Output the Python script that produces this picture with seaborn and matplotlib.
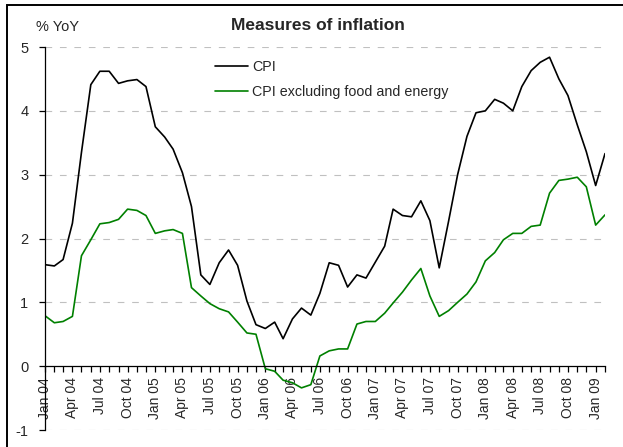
import matplotlib
matplotlib.use("Agg")
import matplotlib.pyplot as plt
import matplotlib.dates as mdates
from matplotlib.patches import Rectangle
import seaborn as sns
import pandas as pd

# monthly year-on-year inflation, Jan 2004 - Feb 2009
months = pd.date_range("2004-01-01", periods=62, freq="MS")

cpi = [1.59, 1.57, 1.67, 2.24, 3.35, 4.41, 4.62, 4.62, 4.43, 4.47, 4.49, 4.38,
       3.75, 3.59, 3.40, 3.03, 2.50, 1.43, 1.28, 1.62, 1.82, 1.58, 1.02, 0.65,
       0.59, 0.69, 0.43, 0.74, 0.91, 0.80, 1.14, 1.62, 1.58, 1.24, 1.43, 1.38,
       1.63, 1.88, 2.46, 2.36, 2.34, 2.59, 2.28, 1.54, 2.27, 3.00, 3.60, 3.97,
       4.00, 4.18, 4.12, 4.00, 4.38, 4.63, 4.76, 4.84, 4.50, 4.24, 3.78, 3.36,
       2.83, 3.33]

core = [0.79, 0.68, 0.70, 0.78, 1.73, 1.98, 2.23, 2.25, 2.30, 2.46, 2.44, 2.36,
        2.08, 2.12, 2.14, 2.08, 1.23, 1.10, 0.98, 0.90, 0.85, 0.69, 0.52, 0.50,
        -0.04, -0.08, -0.22, -0.26, -0.34, -0.29, 0.16, 0.24, 0.27, 0.27, 0.66, 0.70,
        0.70, 0.83, 0.99, 1.16, 1.35, 1.53, 1.10, 0.78, 0.87, 1.00, 1.13, 1.32,
        1.65, 1.78, 1.98, 2.08, 2.08, 2.19, 2.21, 2.71, 2.91, 2.93, 2.96, 2.81,
        2.21, 2.37]

series_names = ["CPI", "CPI excluding food and energy"]
colors = ["#000000", "#008000"]

df = pd.DataFrame({
    "month": list(months) * 2,
    "value": cpi + core,
    "series": [series_names[0]] * len(cpi) + [series_names[1]] * len(core),
})

sns.set_style("white")
plt.rcParams["font.family"] = ["Liberation Sans", "DejaVu Sans"]
plt.rcParams["axes.unicode_minus"] = False

fig = plt.figure(figsize=(6.23, 4.47), dpi=100)
ax = fig.add_axes([45 / 623, (447 - 430) / 447, 560 / 623, 383 / 447])

sns.lineplot(data=df, x="month", y="value", hue="series", palette=colors,
             linewidth=1.2, ax=ax)

ax.set_xlim(months[0], months[-1])
ax.set_ylim(-1, 5)
ax.set_yticks(range(-1, 6))
ax.set_xlabel("")
ax.set_ylabel("")

# dashed horizontal gridlines (skip zero, that is the axis line)
for yv in [-1, 1, 2, 3, 4, 5]:
    ax.axhline(yv, color="#c0c0c0", linewidth=0.8, linestyle=(0, (6, 7)), zorder=0)

for s in ["top", "right"]:
    ax.spines[s].set_visible(False)
ax.spines["left"].set_color("black")
ax.spines["left"].set_linewidth(0.9)
ax.spines["bottom"].set_position(("data", 0))
ax.spines["bottom"].set_color("black")
ax.spines["bottom"].set_linewidth(0.9)

ax.xaxis.set_major_locator(mdates.MonthLocator(bymonth=[1, 4, 7, 10]))
ax.xaxis.set_minor_locator(mdates.MonthLocator())
ax.xaxis.set_major_formatter(mdates.DateFormatter("%b %y"))
ax.tick_params(axis="x", which="both", direction="out", length=4, width=0.9,
               color="black", bottom=True)
ax.tick_params(axis="x", which="major", labelsize=10, rotation=90, pad=4)
ax.tick_params(axis="y", direction="out", length=4, width=0.9, color="black",
               left=True, labelsize=10.5, pad=8)
for lab in ax.get_xticklabels():
    lab.set_verticalalignment("top")

ax.legend(loc="upper left", bbox_to_anchor=(208 / 623, 1 - 53 / 447),
          bbox_transform=fig.transFigure, frameon=False, fontsize=10.3,
          handlelength=2.3, handletextpad=0.3, labelspacing=0.75, borderpad=0)

fig.text(318 / 623, 1 - 26 / 447, "Measures of inflation", ha="center", va="center",
         fontsize=12.5, fontweight="bold")
fig.text(36 / 623, 1 - 27 / 447, "% YoY", ha="left", va="center", fontsize=10.5)

# outer chart frame (top and left edges visible)
fig.patches.append(Rectangle((6.5 / 623, -0.1), 2, 0.1 + (447 - 4.5) / 447,
                             transform=fig.transFigure, fill=False,
                             edgecolor="black", linewidth=1.4))

fig.savefig("out.png", dpi=100)
